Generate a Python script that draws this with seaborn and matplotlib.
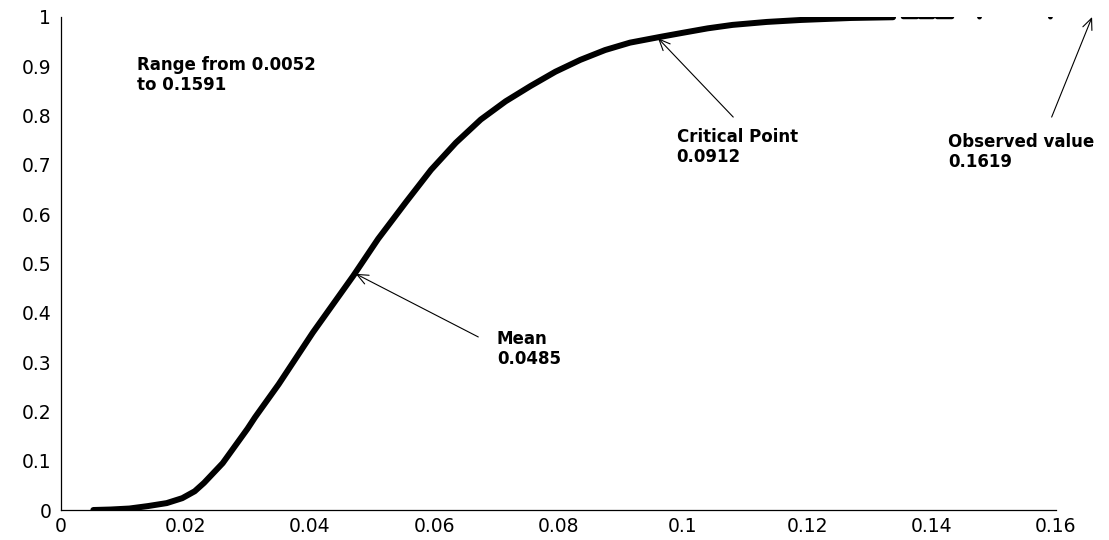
import numpy as np
import pandas as pd
import matplotlib
matplotlib.use("Agg")
import matplotlib.pyplot as plt
import seaborn as sns

# CDF curve
cdf_x = [0.0052, 0.0080, 0.0110, 0.0140, 0.0170, 0.0195, 0.0215, 0.0230, 0.0260,
         0.0300, 0.0312, 0.0350, 0.0405, 0.0470, 0.0510, 0.0555, 0.0595, 0.0635,
         0.0675, 0.0715, 0.0755, 0.0795, 0.0835, 0.0875, 0.0915, 0.0965, 0.1000,
         0.1040, 0.1080, 0.1135, 0.1190, 0.1270, 0.1338]
cdf_y = [0.000, 0.001, 0.003, 0.008, 0.014, 0.024, 0.038, 0.055, 0.095,
         0.165, 0.188, 0.255, 0.360, 0.475, 0.550, 0.625, 0.690, 0.745,
         0.792, 0.829, 0.860, 0.889, 0.913, 0.933, 0.948, 0.960, 0.968,
         0.977, 0.984, 0.990, 0.994, 0.998, 0.9995]
# sparse tail (short runs of points)
tail_x = [0.1354, 0.1376, 0.1381, 0.1402, 0.1409, 0.1433]
tail_y = [1.0, 1.0, 1.0, 1.0, 1.0, 1.0]
tail_seg = [1, 1, 2, 2, 3, 3]
dot_x = [0.1477, 0.1591]
dot_y = [1.0, 1.0]

x_ticks = [0, 0.02, 0.04, 0.06, 0.08, 0.10, 0.12, 0.14, 0.16]
x_labels = ["0", "0.02", "0.04", "0.06", "0.08", "0.1", "0.12", "0.14", "0.16"]
y_ticks = [0, 0.1, 0.2, 0.3, 0.4, 0.5, 0.6, 0.7, 0.8, 0.9, 1.0]
y_labels = ["0", "0.1", "0.2", "0.3", "0.4", "0.5", "0.6", "0.7", "0.8", "0.9", "1"]

mean_val = "0.0485"
crit_val = "0.0912"
obs_val = "0.1619"
range_text = "Range from 0.0052\nto 0.1591"

sns.set_style("white")
plt.rcParams['font.family'] = ['DejaVu Sans']

fig = plt.figure(figsize=(11.09, 5.40), dpi=100)
ax = fig.add_axes([61/1109, 30/540, (1056-61)/1109, (510-17)/540])

main = pd.DataFrame({"x": cdf_x, "y": cdf_y})
sns.lineplot(data=main, x="x", y="y", ax=ax, color="black", lw=4.3,
             estimator=None, sort=False, legend=False,
             solid_joinstyle="round", solid_capstyle="round")
tail = pd.DataFrame({"x": tail_x, "y": tail_y, "seg": tail_seg})
sns.lineplot(data=tail, x="x", y="y", units="seg", ax=ax, color="black", lw=3.2,
             estimator=None, sort=False, legend=False)
dots = pd.DataFrame({"x": dot_x, "y": dot_y})
sns.scatterplot(data=dots, x="x", y="y", ax=ax, color="black", s=12,
                marker="o", edgecolor="none", legend=False)

ax.set_xlim(0, 0.16)
ax.set_ylim(0, 1)
ax.set_xticks(x_ticks)
ax.set_xticklabels(x_labels)
ax.set_yticks(y_ticks)
ax.set_yticklabels(y_labels)
ax.set_xlabel("")
ax.set_ylabel("")
ax.tick_params(direction="in", length=5, width=0.9, labelsize=13.5,
               colors="black", pad=7)
ax.tick_params(axis="x", pad=5)
for s in ["top", "right"]:
    ax.spines[s].set_visible(False)
for s in ["left", "bottom"]:
    ax.spines[s].set_color("black")
    ax.spines[s].set_linewidth(0.9)

arrow = dict(arrowstyle="->,head_length=0.8,head_width=0.35", lw=0.8,
             color="black", shrinkA=0, shrinkB=0)
tkw = dict(fontsize=12, fontweight="bold", ha="left", va="top",
           linespacing=1.15, color="black")

# Range text
ax.text(0.0122, 0.921, range_text, **tkw)

# Mean
ax.annotate("", xy=(0.0474, 0.479), xytext=(0.0671, 0.351),
            arrowprops=arrow, annotation_clip=False)
ax.text(0.0701, 0.365, "Mean\n" + mean_val, **tkw)

# Critical point
ax.annotate("", xy=(0.0960, 0.957), xytext=(0.1081, 0.797),
            arrowprops=arrow, annotation_clip=False)
ax.text(0.0990, 0.775, "Critical Point\n" + crit_val, **tkw)

# Observed value
ax.annotate("", xy=(0.1658, 1.0), xytext=(0.1593, 0.797),
            arrowprops=arrow, annotation_clip=False)
ax.text(0.1426, 0.765, "Observed value\n" + obs_val, clip_on=False, **tkw)

fig.savefig("out.png", dpi=100)
